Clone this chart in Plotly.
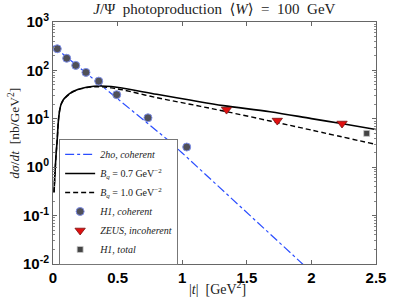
import plotly.graph_objects as go

# 2ho coherent model curve (blue dash-dot)
t_2ho = [0.0, 0.25, 0.5, 0.88, 1.0, 1.25, 1.5, 1.75, 2.0]
y_2ho = [320, 91, 25.8, 3.83, 1.97, 0.48, 0.117, 0.0285, 0.0068]

# B_q = 0.7 GeV^-2 (solid)
t_b07 = [0.008, 0.03, 0.067, 0.132, 0.196, 0.286, 0.35, 0.45, 0.544, 0.803, 1.06, 1.318, 1.68, 2.0, 2.22, 2.5]
y_b07 = [0.3, 3.0, 21.5, 33.6, 40.7, 46.0, 47.6, 46.5, 42.7, 32.1, 24.4, 18.7, 14.0, 10.1, 8.07, 6.0]

# B_q = 1.0 GeV^-2 (dashed)
t_b10 = [0.008, 0.03, 0.067, 0.132, 0.196, 0.286, 0.35, 0.45, 0.544, 0.803, 1.06, 1.318, 1.68, 2.0, 2.5]
y_b10 = [0.3, 3.0, 21.0, 33.0, 40.0, 45.0, 46.0, 43.5, 39.4, 27.3, 20.0, 14.5, 9.0, 5.85, 2.95]

# H1 coherent data
t_h1c = [0.033, 0.106, 0.176, 0.255, 0.354, 0.493, 0.735, 1.035]
y_h1c = [280, 178, 127, 91, 60, 31.5, 10.5, 2.61]

# ZEUS incoherent data
t_zeus = [1.343, 1.736, 2.237]
y_zeus = [15.5, 9.2, 8.0]

# H1 total
t_h1t = [2.428]
y_h1t = [5.0]

y_tickvals = [1e-2, 1e-1, 1, 10, 100, 1000]
y_ticktext = ["10<sup>-2</sup>", "10<sup>-1</sup>", "10<sup>0</sup>", "10<sup>1</sup>", "10<sup>2</sup>", "10<sup>3</sup>"]
x_tickvals = [0, 0.5, 1, 1.5, 2, 2.5]
x_ticktext = ["0", "0.5", "1", "1.5", "2", "2.5"]

serif = "Liberation Serif, DejaVu Serif, serif"

fig = go.Figure()
fig.add_trace(go.Scatter(x=t_2ho, y=y_2ho, mode="lines", name="<i>2ho, coherent</i>",
                         line=dict(color="#2a4dff", width=1.2, dash="dashdot")))
fig.add_trace(go.Scatter(x=t_b07, y=y_b07, mode="lines",
                         name="<i>B<sub>q</sub></i> = 0.7 GeV<sup>−2</sup>",
                         line=dict(color="black", width=1.6, shape="spline")))
fig.add_trace(go.Scatter(x=t_b10, y=y_b10, mode="lines",
                         name="<i>B<sub>q</sub></i> = 1.0 GeV<sup>−2</sup>",
                         line=dict(color="black", width=1.4, dash="5px,3px", shape="spline")))
fig.add_trace(go.Scatter(x=t_h1c, y=y_h1c, mode="markers", name="<i>H1, coherent</i>",
                         marker=dict(symbol="circle", size=8, color="#505058",
                                     line=dict(color="#7f8fe8", width=1))))
fig.add_trace(go.Scatter(x=t_zeus, y=y_zeus, mode="markers", name="<i>ZEUS, incoherent</i>",
                         marker=dict(symbol="triangle-down", size=9, color="#e01010",
                                     line=dict(color="#7a1010", width=0.8))))
fig.add_trace(go.Scatter(x=t_h1t, y=y_h1t, mode="markers", name="<i>H1, total</i>",
                         marker=dict(symbol="square", size=6, color="#444444",
                                     line=dict(color="#cccccc", width=0.8))))

fig.update_layout(
    width=415, height=298,
    margin=dict(l=53, r=39, t=22, b=34, autoexpand=False),
    paper_bgcolor="white", plot_bgcolor="white",
    title=dict(text="<i>J</i>/Ψ  photoproduction  ⟨<i>W</i>⟩  =  100  GeV",
               font=dict(family=serif, size=15, color="#222"),
               x=0.5166, xanchor="center", y=0.988, yanchor="top"),
    showlegend=True,
    legend=dict(x=0.019, y=-0.004, xanchor="left", yanchor="bottom",
                bgcolor="white", bordercolor="#777", borderwidth=1,
                font=dict(family=serif, size=10, color="#222"),
                itemwidth=30, tracegroupgap=0),
    xaxis=dict(range=[0, 2.5], tickvals=x_tickvals, ticktext=x_ticktext, automargin=False,
               ticks="inside", ticklen=4, tickcolor="#666", showgrid=False, zeroline=False,
               showline=True, linecolor="#666", linewidth=1, mirror="allticks",
               tickfont=dict(family="Liberation Sans, Arial, sans-serif", size=15, color="black", weight="bold")),
    yaxis=dict(type="log", range=[-2, 3], tickvals=y_tickvals, ticktext=y_ticktext, automargin=False,
               ticks="inside", ticklen=4, tickcolor="#666", showgrid=False, zeroline=False,
               showline=True, linecolor="#666", linewidth=1, mirror="allticks",
               minor=dict(ticks="inside", ticklen=2, tickcolor="#888", dtick="D1", showgrid=False),
               tickfont=dict(family="Liberation Sans, Arial, sans-serif", size=15, color="black", weight="bold")),
    annotations=[
        dict(text="|<i>t</i>|  [GeV<sup>2</sup>]", xref="paper", yref="paper",
             x=0.508, y=-0.1, xanchor="center", yanchor="middle", showarrow=False,
             font=dict(family=serif, size=14, color="#222")),
        dict(text="<i>dσ</i>/<i>dt</i>  [nb/GeV<sup>2</sup>]", xref="paper", yref="paper",
             x=-0.122, y=0.541, xanchor="center", yanchor="middle", textangle=-90, showarrow=False,
             font=dict(family=serif, size=13.5, color="#222")),
    ],
)

fig.write_html("out.html", config={"displayModeBar": False},
               post_script="document.body.style.margin='0';document.body.style.padding='0';")
